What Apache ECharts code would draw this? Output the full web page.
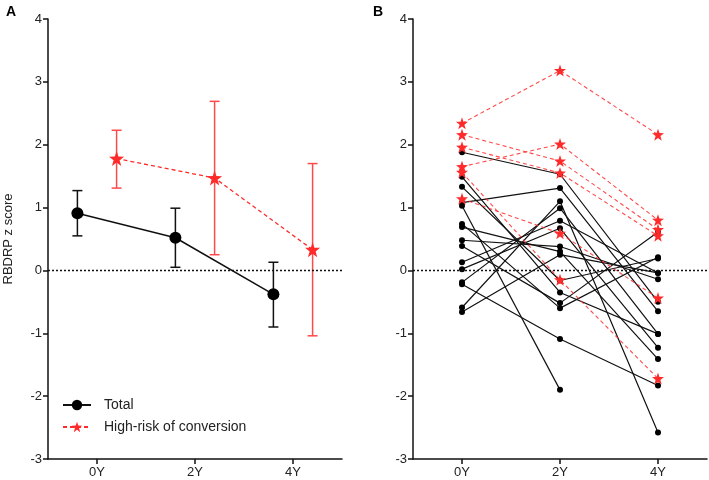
<!DOCTYPE html>
<html><head><meta charset="utf-8">
<script src="https://cdn.jsdelivr.net/npm/echarts@6/dist/echarts.min.js"></script>
<style>html,body{margin:0;padding:0;background:#fff}#c{width:709px;height:480px}</style>
</head><body><div id="c"></div>
<script>
// ---- data ----
const categories = ['0Y', '2Y', '4Y'];
const yTicks = [-3, -2, -1, 0, 1, 2, 3, 4];
// Panel A (group means and error bars)
const totalMean = [0.91, 0.52, -0.38];
const totalLow  = [0.55, 0.05, -0.90];
const totalHigh = [1.27, 0.99, 0.13];
const riskMean  = [1.78, 1.47, 0.33];
const riskLow   = [1.31, 0.25, -1.04];
const riskHigh  = [2.23, 2.69, 1.70];
// Panel B (individual trajectories: 0Y, 2Y, 4Y)
const blackSubjects = [
  [1.88, 1.53, -0.50],
  [1.49, -0.35, -1.01],
  [1.33, -0.16, 0.19],
  [1.08, 1.31, -0.65],
  [1.03, -1.90, null],
  [0.74, -0.60, 0.21],
  [0.69, 0.30, -1.41],
  [0.48, 0.38, -0.14],
  [0.39, -0.52, 0.61],
  [0.13, 0.79, -0.04],
  [0.02, 0.67, -1.23],
  [-0.19, 0.99, -1.01],
  [-0.22, -1.09, -1.83],
  [-0.59, 1.10, -2.58],
  [-0.66, 0.25, -0.04]
];
const redSubjects = [
  [2.34, 3.18, 2.16],
  [2.16, 1.74, 0.65],
  [1.96, 1.55, 0.55],
  [1.65, 2.01, 0.80],
  [1.56, -0.15, -1.72],
  [1.14, 0.59, -0.44]
];

// ---- styles ----
const RED = '#ff2a2a';
const RED_BAR = '#ff4a4a';
const OFFSET = 0.2;
const FONT = 'Liberation Sans, Arial, sans-serif';
const STAR = 'path://M50,0 L62,35 L100,36 L70,59 L81,96 L50,74 L19,96 L30,59 L0,36 L38,35 Z';

function xAxisCfg(gi) {
  return {
    gridIndex: gi, type: 'value', min: -0.5, max: 2.5,
    axisLine: {show: true, onZero: false, lineStyle: {color: '#111', width: 1.5}},
    axisTick: {show: true, length: 5, customValues: [0, 1, 2], lineStyle: {color: '#111', width: 1.5}},
    axisLabel: {customValues: [0, 1, 2], formatter: v => categories[Math.round(v)], color: '#222', fontSize: 13, fontFamily: FONT, margin: 7},
    splitLine: {show: false}
  };
}
function yAxisCfg(gi, name) {
  return {
    gridIndex: gi, type: 'value', min: -3, max: 4, interval: 1,
    name: name || '', nameLocation: 'middle', nameGap: 33,
    nameTextStyle: {color: '#222', fontSize: 13, fontFamily: FONT},
    axisLine: {show: true, onZero: false, lineStyle: {color: '#111', width: 1.5}},
    axisTick: {show: true, length: 5, lineStyle: {color: '#111', width: 1.5}},
    axisLabel: {color: '#222', fontSize: 13, fontFamily: FONT, margin: 6},
    splitLine: {show: false}
  };
}

function errorBars(name, low, high, off, color) {
  return {
    type: 'custom', name: name + ' err', xAxisIndex: 0, yAxisIndex: 0, z: 1,
    data: low.map((l, i) => [i + off, l, high[i]]),
    renderItem: (params, api) => {
      const x = api.value(0);
      const p1 = api.coord([x, api.value(1)]);
      const p2 = api.coord([x, api.value(2)]);
      const w = 5;
      const st = {stroke: color, lineWidth: 1.5};
      return {type: 'group', children: [
        {type: 'line', shape: {x1: p1[0], y1: p1[1], x2: p2[0], y2: p2[1]}, style: st},
        {type: 'line', shape: {x1: p1[0] - w, y1: p1[1], x2: p1[0] + w, y2: p1[1]}, style: st},
        {type: 'line', shape: {x1: p2[0] - w, y1: p2[1], x2: p2[0] + w, y2: p2[1]}, style: st}
      ]};
    },
    silent: true
  };
}

const zeroLine = {
  silent: true, symbol: 'none', label: {show: false},
  lineStyle: {color: '#111', type: [2, 2], width: 1.3},
  data: [{yAxis: 0}]
};

const series = [
  errorBars('Total', totalLow, totalHigh, -OFFSET, '#111'),
  errorBars('High-risk', riskLow, riskHigh, OFFSET, RED_BAR),
  {
    type: 'line', name: 'Total', xAxisIndex: 0, yAxisIndex: 0, z: 3,
    data: totalMean.map((v, i) => [i - OFFSET, v]),
    symbol: 'circle', symbolSize: 12,
    itemStyle: {color: '#000'}, lineStyle: {color: '#111', width: 1.5},
    markLine: zeroLine
  },
  {
    type: 'line', name: 'High-risk of conversion', xAxisIndex: 0, yAxisIndex: 0, z: 3,
    data: riskMean.map((v, i) => [i + OFFSET, v]),
    symbol: STAR, symbolSize: 15,
    itemStyle: {color: RED}, lineStyle: {color: RED, width: 1.3, type: [4, 3]}
  }
];

blackSubjects.forEach((s, k) => {
  series.push({
    type: 'line', xAxisIndex: 1, yAxisIndex: 1, z: 2,
    data: s.map((v, i) => v === null ? null : [i, v]).filter(d => d !== null),
    symbol: 'circle', symbolSize: 6,
    itemStyle: {color: '#000'}, lineStyle: {color: '#111', width: 1.2},
    markLine: k === 0 ? zeroLine : undefined, silent: true
  });
});
redSubjects.forEach(s => {
  series.push({
    type: 'line', xAxisIndex: 1, yAxisIndex: 1, z: 3,
    data: s.map((v, i) => [i, v]),
    symbol: STAR, symbolSize: 12,
    itemStyle: {color: RED}, lineStyle: {color: RED, width: 1.1, type: [4, 3], opacity: 0.85},
    silent: true
  });
});

const chart = echarts.init(document.getElementById('c'), null, {renderer: 'canvas'});
chart.setOption({
  animation: false,
  backgroundColor: '#fff',
  title: [
    {text: 'A', left: 1, top: 0, textStyle: {fontSize: 14, fontWeight: 'bold', color: '#000', fontFamily: FONT}},
    {text: 'B', left: 368, top: 0, textStyle: {fontSize: 14, fontWeight: 'bold', color: '#000', fontFamily: FONT}}
  ],
  grid: [
    {left: 48, width: 294, top: 19, height: 440},
    {left: 413, width: 294, top: 19, height: 440}
  ],
  xAxis: [xAxisCfg(0), xAxisCfg(1)],
  yAxis: [yAxisCfg(0, 'RBDRP z score'), yAxisCfg(1)],
  legend: {
    data: ['Total', 'High-risk of conversion'],
    orient: 'vertical', left: 57, top: 393, itemGap: 8,
    itemWidth: 28, itemHeight: 13,
    textStyle: {fontSize: 14, color: '#222', fontFamily: FONT, padding: [0, 0, 0, 8]},
    selectedMode: false
  },
  series: series
});
</script>
</body></html>
